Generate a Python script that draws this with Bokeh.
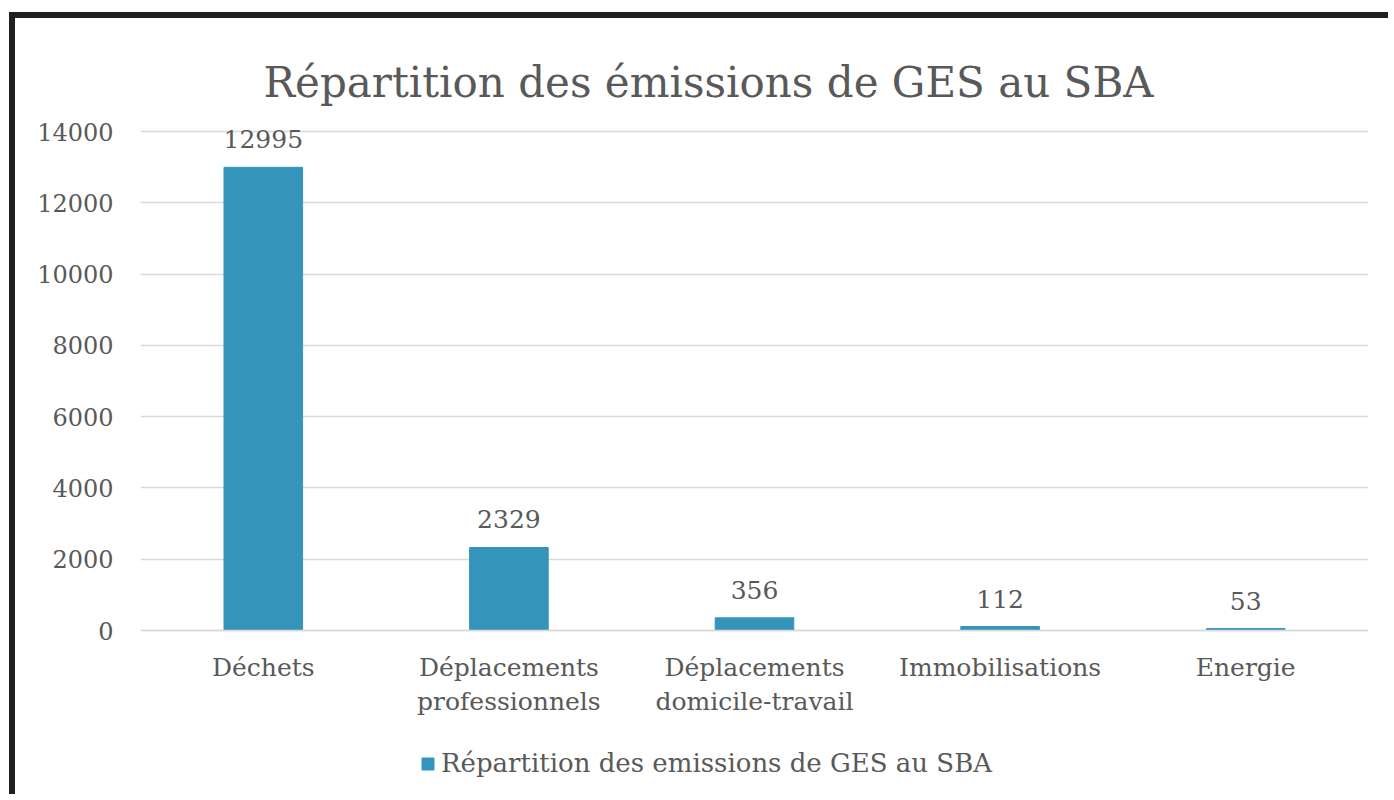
from bokeh.plotting import figure
from bokeh.models import ColumnDataSource, LabelSet, Label, FixedTicker, Range1d
from bokeh.core.properties import value
from bokeh.embed import file_html
from bokeh.resources import INLINE

categories = ["Déchets", "Déplacements\nprofessionnels", "Déplacements\ndomicile-travail",
              "Immobilisations", "Energie"]
emissions = [12995, 2329, 356, 112, 53]
y_ticks = [0, 2000, 4000, 6000, 8000, 10000, 12000, 14000]
title_text = "Répartition des émissions de GES au SBA"
series_name = "Répartition des emissions de GES au SBA"

FONT = "DejaVu Serif"
TEXT = "#595959"
BAR = "#3494BA"
GRID = "#d9d9d9"

# layout geometry (pixels in the page)
CANVAS_TOP = 18
CANVAS_H = 782
AXIS_TOP_PX = 131      # where 14000 sits
AXIS_ZERO_PX = 630     # where 0 sits
upp = (y_ticks[-1] - y_ticks[0]) / (AXIS_ZERO_PX - AXIS_TOP_PX)
y_start = -(CANVAS_TOP + CANVAS_H - AXIS_ZERO_PX) * upp
y_end = y_ticks[-1] + (AXIS_TOP_PX - CANVAS_TOP) * upp

source = ColumnDataSource(dict(cat=categories, val=emissions, lbl=[str(v) for v in emissions]))

p = figure(x_range=categories, y_range=Range1d(y_start, y_end), width=1379, height=CANVAS_H,
           output_backend="svg", toolbar_location=None, tools="",
           min_border_left=125, min_border_right=26, min_border_top=0, min_border_bottom=0)
p.styles = {"border-left": "6px solid #231f20", "border-top": "6px solid #231f20",
            "margin-left": "9px", "margin-top": "12px"}
p.outline_line_color = None
p.background_fill_color = "white"
p.border_fill_color = "white"

p.vbar(x="cat", top="val", width=0.32, source=source, fill_color=BAR, line_color=BAR,
       legend_label=series_name)

# axes
p.yaxis.ticker = FixedTicker(ticks=y_ticks)
p.yaxis.axis_line_color = None
p.yaxis.major_tick_line_color = None
p.yaxis.minor_tick_line_color = None
p.yaxis.major_tick_out = 0
p.yaxis.major_tick_in = 0
p.yaxis.major_label_standoff = 27
p.yaxis.major_label_text_font = FONT
p.yaxis.major_label_text_font_size = "24px"
p.yaxis.major_label_text_color = TEXT

p.xaxis.fixed_location = 0
p.xaxis.axis_line_color = GRID
p.xaxis.axis_line_width = 1.5
p.xaxis.major_tick_line_color = None
p.xaxis.minor_tick_line_color = None
p.xaxis.major_tick_out = 0
p.xaxis.major_tick_in = 0
p.xaxis.major_label_standoff = 22
p.xaxis.major_label_text_font = FONT
p.xaxis.major_label_text_font_size = "25px"
p.xaxis.major_label_text_color = TEXT

p.xgrid.grid_line_color = None
p.ygrid.grid_line_color = GRID
p.ygrid.grid_line_width = 1.5

# data labels
labels = LabelSet(x="cat", y="val", text="lbl", source=source, text_align="center",
                  text_baseline="alphabetic", y_offset=19, text_font=value(FONT),
                  text_font_size=value("25px"), text_color=TEXT)
p.add_layout(labels)

# title
title = Label(x=568, x_units="screen", y=y_ticks[-1] + (AXIS_TOP_PX - 82) * upp,
              text=title_text, text_align="center", text_baseline="alphabetic",
              text_font=FONT, text_font_size="42px", text_color=TEXT)
p.add_layout(title)

# legend
lg = p.legend[0]
lg.location = (280, 22)
lg.border_line_color = None
lg.background_fill_alpha = 0
lg.padding = 0
lg.margin = 0
lg.glyph_width = 15
lg.glyph_height = 15
lg.label_standoff = 6
lg.label_text_font = FONT
lg.label_text_font_size = "26px"
lg.label_text_color = TEXT

open("out.html", "w").write(file_html(p, INLINE))
